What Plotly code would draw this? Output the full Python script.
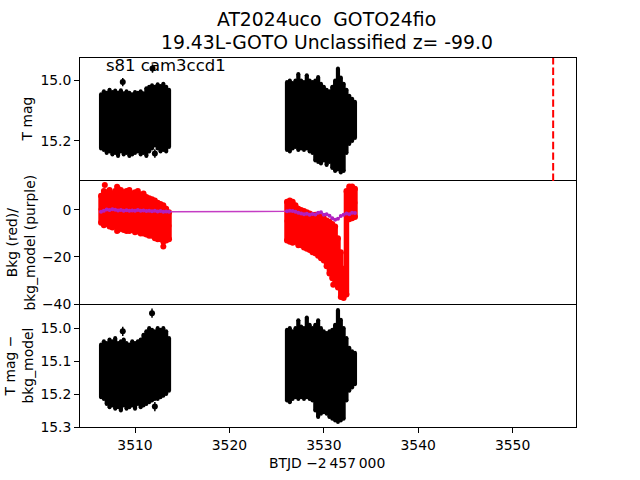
import plotly.graph_objects as go

# ---------------- data (BTJD - 2457000) ----------------
t_seg1 = [3506.4, 3506.7, 3507.0, 3507.3, 3507.6, 3507.9, 3508.2, 3508.5, 3508.8, 3509.1,
          3509.4, 3509.7, 3510.0, 3510.3, 3510.6, 3510.9, 3511.2, 3511.5, 3511.8, 3512.1,
          3512.4, 3512.7, 3513.0, 3513.3, 3513.6]
t_seg2 = [3526.1, 3526.4, 3526.7, 3527.0, 3527.3, 3527.6, 3527.9, 3528.2, 3528.5, 3528.8,
          3529.1, 3529.4, 3529.7, 3530.0, 3530.3, 3530.6, 3530.9, 3531.2, 3531.5, 3531.8,
          3532.1, 3532.4, 3532.7, 3533.0, 3533.3]

# Panel 1: T mag envelope (bright edge / faint edge of the errorbar cloud)
tmag_hi_1 = [15.045, 15.035, 15.040, 15.030, 15.038, 15.033, 15.040, 15.032, 15.042, 15.035,
             15.040, 15.045, 15.038, 15.040, 15.035, 15.042, 15.025, 15.020, 15.015, 15.020,
             15.012, 15.018, 15.010, 15.020, 15.030]
tmag_lo_1 = [15.225, 15.230, 15.240, 15.235, 15.245, 15.240, 15.250, 15.235, 15.245, 15.240,
             15.250, 15.245, 15.240, 15.235, 15.245, 15.240, 15.250, 15.235, 15.225, 15.215,
             15.225, 15.235, 15.230, 15.235, 15.220]
tmag_hi_2 = [15.005, 15.000, 15.008, 15.000, 14.978, 15.000, 15.005, 14.982, 15.000, 15.005,
             15.000, 14.988, 15.010, 15.020, 15.030, 15.035, 15.020, 15.000, 14.960, 14.990,
             15.010, 15.030, 15.050, 15.060, 15.070]
tmag_lo_2 = [15.230, 15.235, 15.225, 15.220, 15.230, 15.225, 15.230, 15.225, 15.235, 15.240,
             15.265, 15.270, 15.275, 15.265, 15.280, 15.270, 15.290, 15.300, 15.295, 15.305,
             15.300, 15.240, 15.210, 15.200, 15.190]
tmag_out_t = [3508.7, 3511.85, 3512.1]
tmag_out_v = [15.005, 14.960, 15.242]

# Panel 2: background (red) envelope and background model (purple)
bkg_hi_1 = [6.0, 8.0, 7.5, 8.5, 7.0, 8.0, 9.0, 8.5, 7.5, 8.0, 8.5, 7.0, 7.5, 8.0, 6.5, 7.0,
            5.5, 5.0, 4.5, 4.0, 3.0, 2.5, 2.0, 0.5, -1.0]
bkg_lo_1 = [-5.5, -6.5, -6.0, -7.0, -7.5, -7.0, -8.5, -8.0, -8.5, -9.0, -9.0, -8.5, -9.5,
            -9.0, -10.0, -10.0, -10.5, -11.0, -11.0, -12.0, -12.5, -12.5, -13.5, -13.0, -12.5]
bkg_hi_2 = [3.5, 4.0, 3.5, 2.0, 0.5, 0.0, -0.5, -1.0, -1.5, -2.0, -2.0, -2.5, -3.0, -3.5,
            -4.5, -5.0, -6.0, -7.0, -12.0, -18.0, -25.0, 8.0, 10.0, 10.0, 9.0]
bkg_lo_2 = [-13.0, -13.5, -14.0, -13.5, -15.0, -15.0, -16.0, -16.5, -17.0, -18.0, -18.5,
            -19.5, -20.5, -21.5, -24.0, -27.0, -29.0, -30.0, -33.0, -37.0, -37.5, -36.0,
            -4.0, -3.5, -3.0]
bkg_out_t = [3506.8, 3508.1, 3508.1, 3510.3, 3513.0, 3531.0]
bkg_out_v = [10.6, 9.9, -9.0, -9.2, -15.6, -31.8]
model_1 = [-0.8, -0.3, 0.2, 0.0, 0.3, 0.1, -0.2, 0.0, -0.3, -0.1, -0.4, -0.2, -0.3, 0.0,
           -0.4, -0.2, -0.5, -0.3, -0.6, -0.4, -0.7, -0.5, -0.8, -0.7, -0.8]
model_2 = [-0.6, -0.3, -0.5, -0.8, -1.2, -1.5, -1.8, -1.6, -2.0, -1.7, -1.9, -1.2, -1.0,
           -2.0, -1.8, -2.5, -3.5, -4.2, -3.8, -2.6, -2.0, -1.5, -1.8, -1.2, -1.3]

# Panel 3: T mag - bkg_model envelope
corr_hi_1 = [15.050, 15.040, 15.045, 15.035, 15.040, 15.030, 15.045, 15.040, 15.035, 15.045,
             15.050, 15.040, 15.045, 15.040, 15.035, 15.020, 15.010, 15.000, 15.005, 15.010,
             15.000, 15.005, 15.000, 15.010, 15.030]
corr_lo_1 = [15.210, 15.215, 15.230, 15.240, 15.235, 15.245, 15.240, 15.250, 15.235, 15.245,
             15.240, 15.235, 15.245, 15.230, 15.240, 15.235, 15.230, 15.225, 15.220, 15.215,
             15.215, 15.210, 15.205, 15.200, 15.190]
corr_hi_2 = [15.005, 15.000, 15.010, 15.000, 14.976, 14.995, 15.000, 14.968, 14.990, 15.000,
             14.990, 14.976, 15.000, 15.010, 15.015, 15.010, 15.005, 14.990, 14.945, 14.975,
             15.000, 15.030, 15.060, 15.070, 15.075]
corr_lo_2 = [15.220, 15.225, 15.215, 15.210, 15.215, 15.210, 15.215, 15.210, 15.215, 15.220,
             15.250, 15.270, 15.260, 15.255, 15.260, 15.270, 15.275, 15.280, 15.285, 15.280,
             15.275, 15.220, 15.190, 15.180, 15.170]
corr_out_t = [3508.7, 3511.8, 3512.1]
corr_out_v = [15.010, 14.955, 15.238]

# Reference epoch marker
vline_x = [3554.3]

# Tick labels
x_ticks = [3510, 3520, 3530, 3540, 3550]
y1_ticks = [15.0, 15.2]
y2_ticks = [0, -20, -40]
y2_ticktext = ["0", "\u221220", "\u221240"]
y3_ticks = [15.0, 15.1, 15.2, 15.3]

title_line1 = "AT2024uco \u00a0GOTO24fio"
title_line2 = "19.43L-GOTO Unclassified z= -99.0"
field_label = "s81 cam3ccd1"

# ---------------- figure ----------------
FONT = "DejaVu Sans"
fig = go.Figure()


def envelope(t, hi, lo, xa, ya, color, thick, msize):
    mid = [(a + b) / 2 for a, b in zip(hi, lo)]
    half = [abs(b - a) / 2 for a, b in zip(hi, lo)]
    fig.add_trace(go.Scatter(
        x=t, y=mid, mode="markers", xaxis=xa, yaxis=ya,
        marker=dict(color=color, size=msize),
        error_y=dict(type="data", array=half, symmetric=True, color=color,
                     thickness=thick, width=0),
        showlegend=False, hoverinfo="skip"))


def ends(t, vals, xa, ya, color, size):
    fig.add_trace(go.Scatter(x=t, y=vals, mode="markers", xaxis=xa, yaxis=ya,
                             marker=dict(color=color, size=size),
                             showlegend=False, hoverinfo="skip"))


# Panel 1
envelope(t_seg1, tmag_hi_1, tmag_lo_1, "x", "y", "black", 4.2, 3)
envelope(t_seg2, tmag_hi_2, tmag_lo_2, "x", "y", "black", 4.2, 3)
ends(t_seg1 + t_seg2, tmag_hi_1 + tmag_hi_2, "x", "y", "black", 4)
ends(t_seg1 + t_seg2, tmag_lo_1 + tmag_lo_2, "x", "y", "black", 4)
fig.add_trace(go.Scatter(x=tmag_out_t, y=tmag_out_v, mode="markers", xaxis="x", yaxis="y",
                         marker=dict(color="black", size=6),
                         error_y=dict(type="constant", value=0.014, color="black",
                                      thickness=1.5, width=0),
                         showlegend=False, hoverinfo="skip"))

# Panel 2
envelope(t_seg1, bkg_hi_1, bkg_lo_1, "x2", "y2", "red", 5.5, 5)
envelope(t_seg2, bkg_hi_2, bkg_lo_2, "x2", "y2", "red", 5.5, 5)
ends(t_seg1 + t_seg2, bkg_hi_1 + bkg_hi_2, "x2", "y2", "red", 6)
ends(t_seg1 + t_seg2, bkg_lo_1 + bkg_lo_2, "x2", "y2", "red", 6)
ends(bkg_out_t, bkg_out_v, "x2", "y2", "red", 6)
fig.add_trace(go.Scatter(x=t_seg1 + t_seg2, y=model_1 + model_2, mode="lines+markers",
                         xaxis="x2", yaxis="y2",
                         line=dict(color="#c43cc4", width=1.5),
                         marker=dict(color="#b020c0", size=4),
                         showlegend=False, hoverinfo="skip"))

# Panel 3
envelope(t_seg1, corr_hi_1, corr_lo_1, "x3", "y3", "black", 4.2, 3)
envelope(t_seg2, corr_hi_2, corr_lo_2, "x3", "y3", "black", 4.2, 3)
ends(t_seg1 + t_seg2, corr_hi_1 + corr_hi_2, "x3", "y3", "black", 4)
ends(t_seg1 + t_seg2, corr_lo_1 + corr_lo_2, "x3", "y3", "black", 4)
fig.add_trace(go.Scatter(x=corr_out_t, y=corr_out_v, mode="markers", xaxis="x3", yaxis="y3",
                         marker=dict(color="black", size=6),
                         error_y=dict(type="constant", value=0.014, color="black",
                                      thickness=1.5, width=0),
                         showlegend=False, hoverinfo="skip"))

# Red dashed epoch line in top panel
for xv in vline_x:
    fig.add_shape(type="line", xref="x", yref="y domain", x0=xv, x1=xv, y0=0, y1=1,
                  line=dict(color="red", width=2, dash="7.4px,3.2px"))

XR = [3504.17, 3556.72]
common_x = dict(range=XR, showline=True, linecolor="black", linewidth=1,
                showgrid=False, zeroline=False)
common_y = dict(showline=True, mirror=True, linecolor="black", linewidth=1,
                showgrid=False, zeroline=False, ticks="outside", ticklen=4.9,
                tickwidth=1, tickcolor="black",
                tickfont=dict(family=FONT, size=13.9, color="black"))

fig.update_layout(
    width=640, height=480, autosize=False,
    margin=dict(l=80, r=64, t=58, b=53),
    paper_bgcolor="white", plot_bgcolor="white",
    font=dict(family=FONT, color="black"),
    xaxis=dict(**common_x, anchor="y", side="top", mirror=False,
               showticklabels=False, ticks=""),
    xaxis2=dict(**common_x, anchor="y2", matches="x", mirror=True,
                showticklabels=False, ticks=""),
    xaxis3=dict(**common_x, anchor="y3", matches="x", mirror=False, ticks="outside",
                ticklen=4.9, tickwidth=1, tickcolor="black", tickvals=x_ticks,
                tickfont=dict(family=FONT, size=13.9, color="black")),
    yaxis=dict(**common_y, domain=[2 / 3, 1], anchor="x", range=[15.333, 14.925],
               tickvals=y1_ticks, ticktext=["15.0", "15.2"]),
    yaxis2=dict(**common_y, domain=[1 / 3, 2 / 3], anchor="x2", range=[-40, 12.3],
                tickvals=y2_ticks, ticktext=y2_ticktext),
    yaxis3=dict(**common_y, domain=[0, 1 / 3], anchor="x3", range=[15.3, 14.927],
                tickvals=y3_ticks, ticktext=["15.0", "15.1", "15.2", "15.3"]),
)


def px_x(p):
    return (p - 80) / 496


def px_y(p):
    return (427 - p) / 369


ann = []
ann.append(dict(text=title_line1, x=px_x(326), y=px_y(31), xref="paper", yref="paper",
                xanchor="center", yanchor="bottom", showarrow=False, borderpad=0,
                font=dict(family=FONT, size=18.8, color="black")))
ann.append(dict(text=title_line2, x=px_x(327), y=px_y(31), xref="paper", yref="paper",
                xanchor="center", yanchor="top", showarrow=False, borderpad=0,
                font=dict(family=FONT, size=18.8, color="black")))
ann.append(dict(text=field_label, x=px_x(104), y=px_y(65), xref="paper", yref="paper",
                xanchor="left", yanchor="middle", showarrow=False,
                font=dict(family=FONT, size=16.5, color="black")))
ann.append(dict(text="T mag", x=px_x(27), y=px_y(119.5), xref="paper", yref="paper",
                xanchor="center", yanchor="middle", textangle=-90, showarrow=False,
                font=dict(family=FONT, size=13.9, color="black")))
ann.append(dict(text="Bkg (red)/<br>bkg_model (purple)", x=px_x(20), y=px_y(242.5),
                xref="paper", yref="paper", xanchor="center", yanchor="middle",
                textangle=-90, showarrow=False,
                font=dict(family=FONT, size=13.9, color="black")))
ann.append(dict(text="T mag \u2212<br>bkg_model", x=px_x(18), y=px_y(365.5),
                xref="paper", yref="paper", xanchor="center", yanchor="middle",
                textangle=-90, showarrow=False,
                font=dict(family=FONT, size=13.9, color="black")))
ann.append(dict(text="BTJD \u22122\u2009457\u2009000", x=px_x(327), y=px_y(463),
                xref="paper", yref="paper", xanchor="center", yanchor="middle",
                showarrow=False, font=dict(family=FONT, size=13.9, color="black")))
fig.update_layout(annotations=ann)

fig.write_html("out.html")
